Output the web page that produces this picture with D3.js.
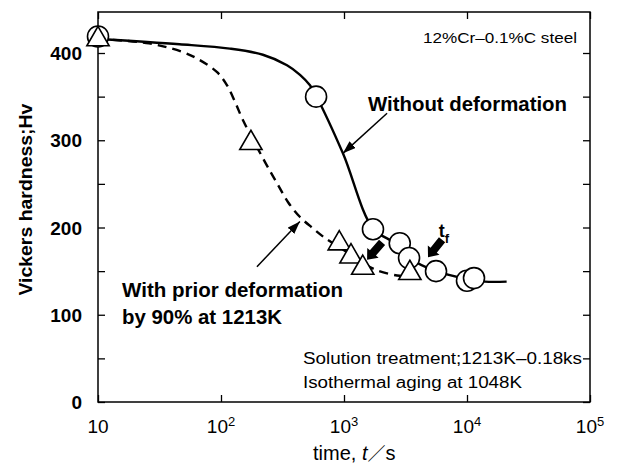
<!DOCTYPE html>
<html>
<head>
<meta charset="utf-8">
<script src="https://cdn.jsdelivr.net/npm/d3@7"></script>
<style>
  body { margin: 0; background: #fff; }
  svg { display: block; }
  text { font-family: "Liberation Sans", Arial, sans-serif; fill: #000; }
</style>
</head>
<body>
<svg id="chart"></svg>
<script>
// Measured points: without deformation (circles)
const plainTime = [10, 593, 1720, 2840, 3380, 5600, 10000, 11400];
const plainHv = [419, 350, 198, 182, 165, 150, 139, 142];

// Measured points: with prior deformation (triangles)
const deformTime = [10, 175, 915, 1140, 1420, 3430];
const deformHv = [418, 299, 184, 169, 156, 150];

// Fitted curves
const plainCurveTime = [10, 46, 118, 219, 344, 439, 529, 593, 980, 1720, 2600, 3500, 5600, 10000, 14000, 21000];
const plainCurveHv = [416, 410, 405, 398, 386, 375, 363, 351, 285, 199, 182, 164, 150, 141, 138, 138];
const deformCurveTime = [10, 26, 49, 67, 93, 112, 130, 151, 228, 285, 351, 439, 560, 701, 1000, 1400, 1850, 2700, 3300];
const deformCurveHv = [416, 411, 401, 392, 378, 363, 344, 323, 275, 251, 229, 212, 199, 188, 174, 160, 151, 145, 144];

// Axis ticks
const xTicks = [10, 100, 1000, 10000, 100000];
const xTickLabels = ["10", "10|2", "10|3", "10|4", "10|5"];
const yTicks = [0, 100, 200, 300, 400];

const width = 623;
const height = 465;
const margin = { top: 12, right: 33, bottom: 63, left: 98 };

const x = d3.scaleLog()
    .domain([10, 1e5])
    .range([margin.left, width - margin.right]);

const y = d3.scaleLinear()
    .domain([0, 447])
    .range([height - margin.bottom, margin.top]);

const svg = d3.select("#chart")
    .attr("width", width)
    .attr("height", height);

svg.append("defs").append("marker")
    .attr("id", "head")
    .attr("viewBox", "0 0 13 9")
    .attr("refX", 13)
    .attr("refY", 4.5)
    .attr("markerWidth", 13)
    .attr("markerHeight", 9)
    .attr("markerUnits", "userSpaceOnUse")
    .attr("orient", "auto")
    .append("path")
    .attr("d", "M0,0L13,4.5L0,9Z")
    .attr("fill", "#000");

// Frame
svg.append("rect")
    .attr("x", margin.left)
    .attr("y", margin.top)
    .attr("width", width - margin.left - margin.right)
    .attr("height", height - margin.top - margin.bottom)
    .attr("fill", "none")
    .attr("stroke", "#000")
    .attr("stroke-width", 1.5);

// Inward ticks on all four sides
const yMinor = d3.range(0, 447, 50);
const tickAxes = [
    { axis: d3.axisLeft(y).tickValues(yMinor), tx: margin.left, ty: 0 },
    { axis: d3.axisRight(y).tickValues(yMinor), tx: width - margin.right, ty: 0 },
    { axis: d3.axisBottom(x).tickValues(xTicks), tx: 0, ty: height - margin.bottom },
    { axis: d3.axisTop(x).tickValues(xTicks), tx: 0, ty: margin.top }
];
tickAxes.forEach(a => {
    const g = svg.append("g")
        .attr("transform", `translate(${a.tx},${a.ty})`)
        .call(a.axis.tickSize(-7).tickFormat(""));
    g.select(".domain").remove();
    g.selectAll("line").attr("stroke-width", 1.3);
});

// Y tick labels
svg.append("g")
    .selectAll("text")
    .data(yTicks)
    .join("text")
    .attr("x", margin.left - 16)
    .attr("y", d => y(d) + 7)
    .attr("text-anchor", "end")
    .style("font-size", "19px")
    .style("font-weight", "bold")
    .text(d => d);

// X tick labels with superscripts
const xl = svg.append("g")
    .selectAll("text")
    .data(xTicks)
    .join("text")
    .attr("x", d => x(d))
    .attr("y", height - margin.bottom + 31)
    .attr("text-anchor", "middle")
    .style("font-size", "19px");
xl.each(function(d, i) {
    const parts = xTickLabels[i].split("|");
    const t = d3.select(this);
    t.append("tspan").text(parts[0]);
    if (parts[1]) {
        t.append("tspan")
            .attr("dy", -7)
            .style("font-size", "13px")
            .text(parts[1]);
    }
});

// Axis titles
svg.append("text")
    .attr("transform", `translate(32,${y(232)}) rotate(-90)`)
    .attr("text-anchor", "middle")
    .attr("textLength", 192)
    .attr("lengthAdjust", "spacingAndGlyphs")
    .style("font-size", "19px")
    .style("font-weight", "bold")
    .text("Vickers hardness;Hv");

const xt = svg.append("text")
    .attr("x", 313)
    .attr("y", height - 5)
    .style("font-size", "20px");
xt.append("tspan").text("time, ");
xt.append("tspan").style("font-style", "italic").text("t");
xt.append("tspan").style("font-family", "'Noto Sans CJK JP', sans-serif").style("font-size", "18px").text("\uFF0F");
xt.append("tspan").text("s");

// Curves
const line = d3.line()
    .x(d => x(d[0]))
    .y(d => y(d[1]))
    .curve(d3.curveCatmullRom.alpha(0.5));

svg.append("path")
    .datum(d3.zip(plainCurveTime, plainCurveHv))
    .attr("d", line)
    .attr("fill", "none")
    .attr("stroke", "#000")
    .attr("stroke-width", 2.4);

svg.append("path")
    .datum(d3.zip(deformCurveTime, deformCurveHv))
    .attr("d", line)
    .attr("fill", "none")
    .attr("stroke", "#000")
    .attr("stroke-width", 2.4)
    .attr("stroke-dasharray", "9,6");

// Markers
svg.append("g")
    .selectAll("circle")
    .data(d3.zip(plainTime, plainHv))
    .join("circle")
    .attr("cx", d => x(d[0]))
    .attr("cy", d => y(d[1]))
    .attr("r", 10.5)
    .attr("fill", "#fff")
    .attr("stroke", "#000")
    .attr("stroke-width", 1.6);

const tri = d3.symbol().type(d3.symbolTriangle).size(215);
svg.append("g")
    .selectAll("path")
    .data(d3.zip(deformTime, deformHv))
    .join("path")
    .attr("transform", d => `translate(${x(d[0])},${y(d[1]) + 2})`)
    .attr("d", tri)
    .attr("fill", "#fff")
    .attr("stroke", "#000")
    .attr("stroke-width", 1.6);

// Thin annotation arrows (data coords: [t, Hv])
const thinArrows = [
    [[2240, 331], [980, 285]],
    [[196, 155], [438, 207]]
];
svg.append("g")
    .selectAll("line")
    .data(thinArrows)
    .join("line")
    .attr("x1", d => x(d[0][0]))
    .attr("y1", d => y(d[0][1]))
    .attr("x2", d => x(d[1][0]))
    .attr("y2", d => y(d[1][1]))
    .attr("stroke", "#000")
    .attr("stroke-width", 1.5)
    .attr("marker-end", "url(#head)");

// Block arrows marking tf
const blockArrows = [
    [[2040, 183], [1540, 163]],
    [[6270, 186], [4820, 166]]
];
blockArrows.forEach(a => {
    const x1 = x(a[0][0]), y1 = y(a[0][1]);
    const x2 = x(a[1][0]), y2 = y(a[1][1]);
    const ang = Math.atan2(y2 - y1, x2 - x1) * 180 / Math.PI;
    const len = Math.hypot(x2 - x1, y2 - y1);
    svg.append("path")
        .attr("transform", `translate(${x1},${y1}) rotate(${ang})`)
        .attr("d", `M0,-4L${len - 9},-4L${len - 9},-7.5L${len},0L${len - 9},7.5L${len - 9},4L0,4Z`)
        .attr("fill", "#000");
});

const tf = svg.append("text")
    .attr("x", x(5900))
    .attr("y", y(189))
    .style("font-size", "18px")
    .style("font-weight", "bold");
tf.append("tspan").text("t");
tf.append("tspan").attr("dy", 6).style("font-size", "13px").text("f");

// Labels
const labels = [
    { text: "12%Cr\u20130.1%C steel", x: 423, y: 43, len: 154, size: 15, bold: false },
    { text: "Without deformation", x: 368, y: 111, len: 199, size: 20, bold: true },
    { text: "With prior deformation", x: 122, y: 297, len: 221, size: 20, bold: true },
    { text: "by 90% at 1213K", x: 122, y: 324, len: 160, size: 20, bold: true },
    { text: "Solution treatment;1213K\u20130.18ks", x: 303, y: 364, len: 279, size: 16, bold: false },
    { text: "Isothermal aging at 1048K", x: 303, y: 388, len: 219, size: 16, bold: false }
];
svg.append("g")
    .selectAll("text")
    .data(labels)
    .join("text")
    .attr("x", d => d.x)
    .attr("y", d => d.y)
    .attr("textLength", d => d.len)
    .attr("lengthAdjust", "spacingAndGlyphs")
    .style("font-size", d => d.size + "px")
    .style("font-weight", d => d.bold ? "bold" : "normal")
    .text(d => d.text);
</script>
</body>
</html>
